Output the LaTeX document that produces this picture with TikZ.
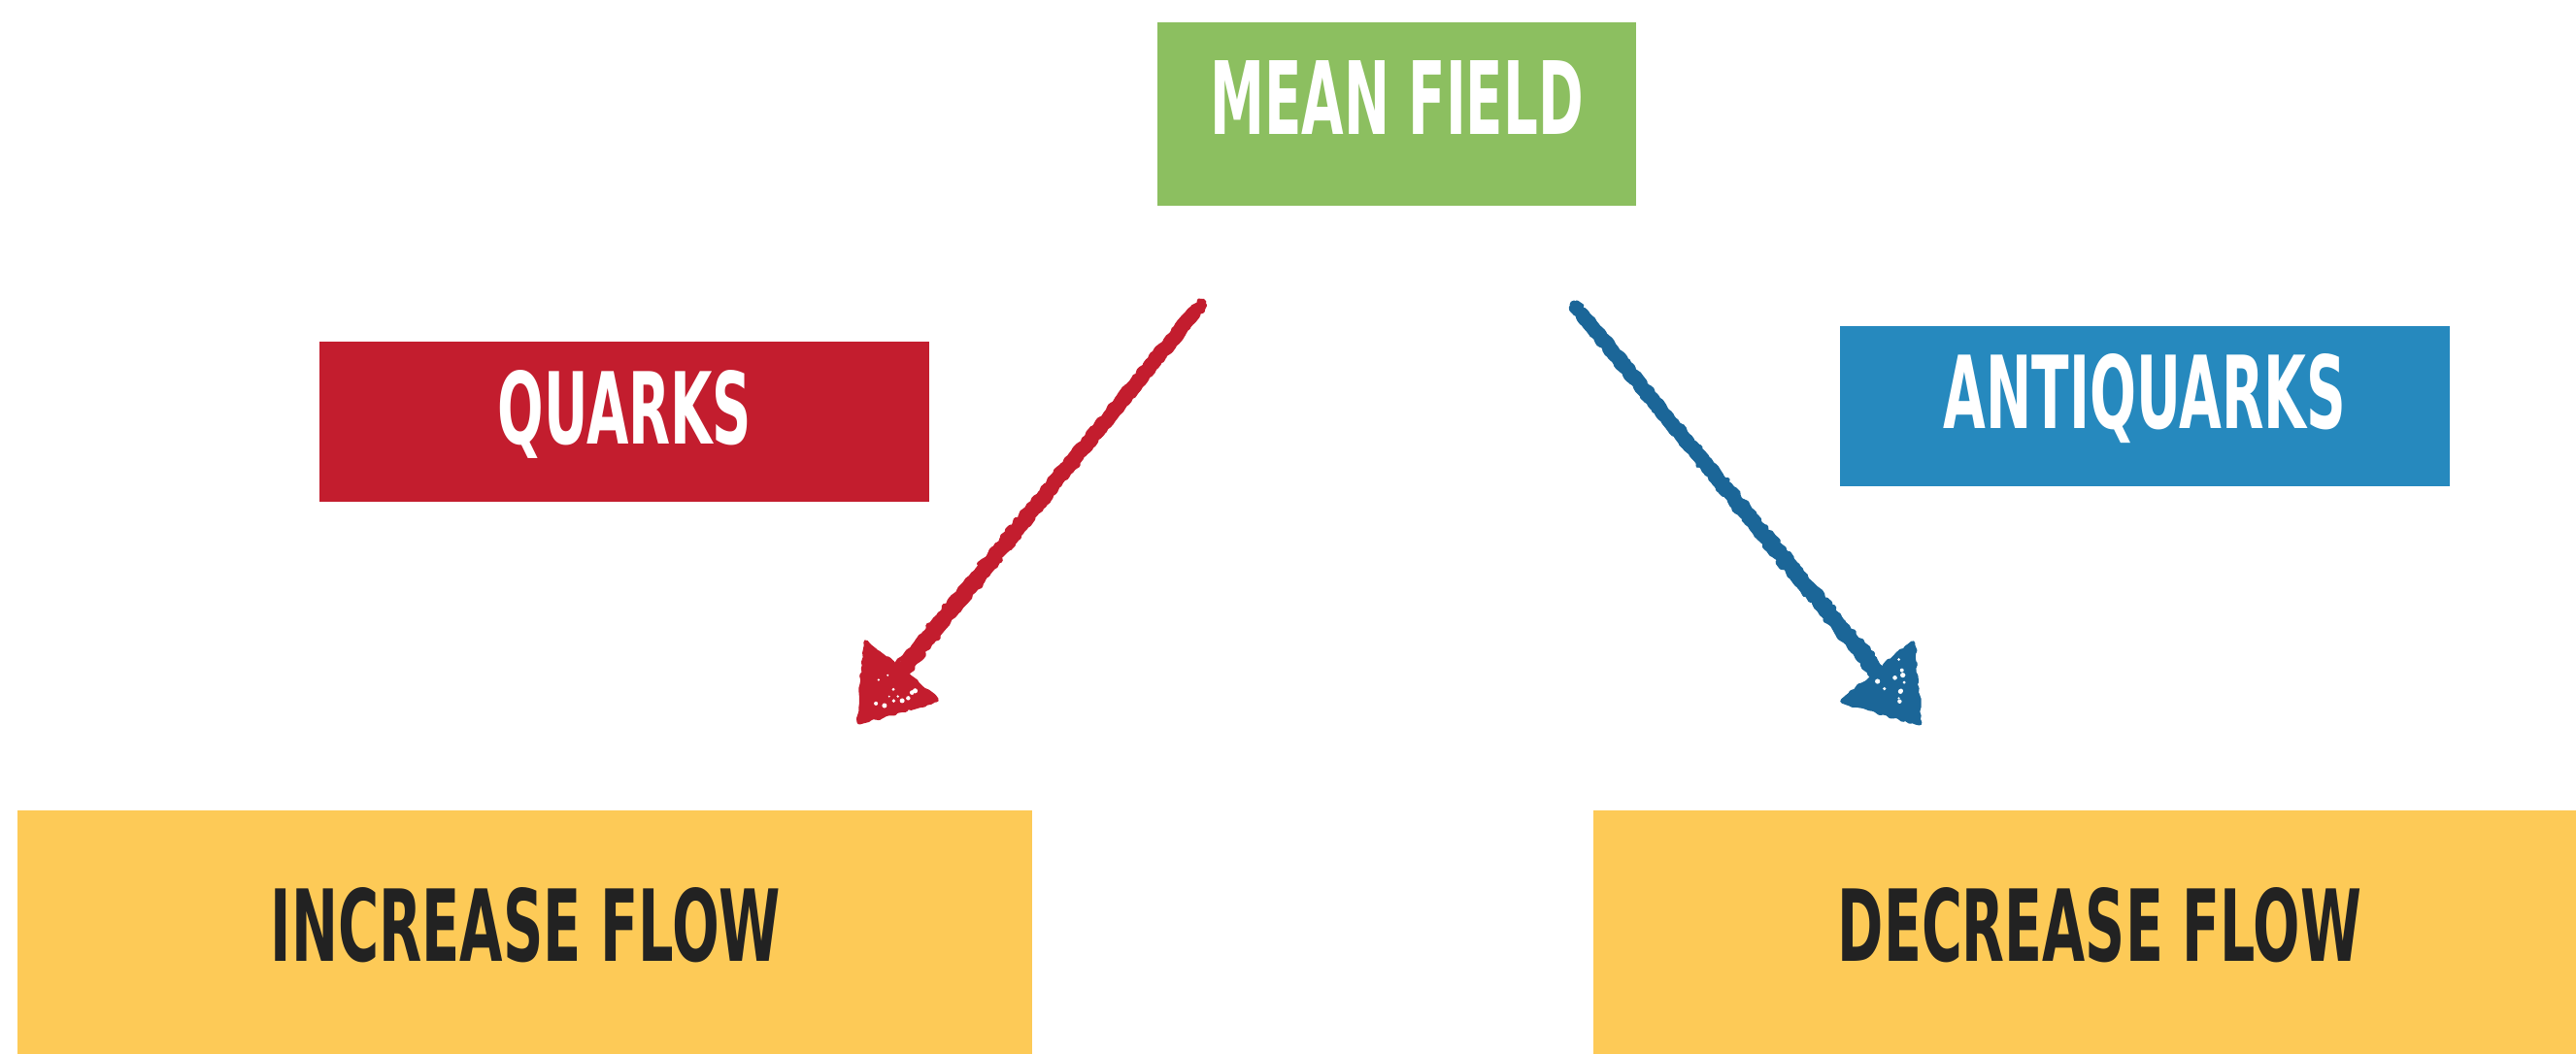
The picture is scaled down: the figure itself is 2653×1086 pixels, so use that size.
\documentclass[tikz,border=0pt]{standalone}
\usepackage{fontspec}
\usepackage{graphicx}
\usetikzlibrary{calc,decorations.pathmorphing}
\newfontfamily\dinfont{DejaVu Sans Condensed}

\definecolor{fieldgreen}{HTML}{8CBF60}
\definecolor{quarkred}{HTML}{C31D2E}
\definecolor{antiblue}{HTML}{2689BE}
\definecolor{arrowblue}{HTML}{1B6698}
\definecolor{flowyellow}{HTML}{FDCA57}
\definecolor{inkdark}{HTML}{222222}

% condensed caps of a fixed width and cap height (in pt)
\newcommand\capsline[3]{\resizebox{#1pt}{#2pt}{\dinfont\bfseries #3}}

% a hand-drawn, crayon-like arrow from #1 to #2 in colour #3
\newcommand\chalkarrow[3]{%
  \coordinate (hb) at ($(#2)!68pt!(#1)$);
  \coordinate (hm) at ($(#2)!45pt!(#1)$);
  \coordinate (hc1) at ($(hb)!47pt!90:(#2)$);
  \coordinate (hc2) at ($(hb)!47pt!-90:(#2)$);
  \draw[#3, chalk, line width=15pt] ($(#1)!14pt!(hm)$) -- (hm);
  \draw[#3, chalk, line width=9pt] (#1) -- ($(#1)!50pt!(hm)$);
  \draw[#3, chalk, line width=4pt, decoration={amplitude=2.2pt}]
    ($(#1)!4pt!90:(hm)$) -- ($(hm)!7pt!-90:(#1)$);
  \draw[#3, chalk, line width=4pt, decoration={amplitude=2.2pt}]
    ($(#1)!4pt!-90:(hm)$) -- ($(hm)!7pt!90:(#1)$);
  \filldraw[#3, chalk, line width=5pt] (#2) -- (hc1) -- (hc2) -- cycle;
  % crayon grain: small bare specks in the head
  \foreach \k in {1,...,12}{
    \pgfmathsetmacro\spu{0.2+0.55*rnd}
    \pgfmathsetmacro\spv{(1-\spu)*(0.15+0.7*rnd)}
    \pgfmathsetmacro\spr{1.0+1.6*rnd}
    \fill[white] ($(#2)!\spu!(hc1) + \spv*(hc2) - \spv*(#2)$) circle[radius=\spr pt];
  }
}

\tikzset{
  panel/.style={rectangle, draw=none, inner sep=0pt},
  caption/.style={inner sep=0pt, anchor=base},
  chalk/.style={decorate, decoration={random steps, segment length=4pt, amplitude=1.4pt},
                line cap=round, line join=round},
}

\begin{document}
\begin{tikzpicture}[x=1pt, y=-1pt]
\pgfmathsetseed{11}
\useasboundingbox (0,0) rectangle (2653,1086);
\fill[white] (0,0) rectangle (2653,1086);

% coloured panels
\node[panel, fill=fieldgreen, minimum width=493pt, minimum height=189pt] (mean) at (1438.5,117.5) {};
\node[panel, fill=quarkred, minimum width=628pt, minimum height=165pt] (quarks) at (643,434.5) {};
\node[panel, fill=antiblue, minimum width=628pt, minimum height=165pt] (anti) at (2209,418.5) {};
\node[panel, fill=flowyellow, minimum width=1045pt, minimum height=251pt] (inc) at (540.5,960.5) {};
\node[panel, fill=flowyellow, minimum width=1012pt, minimum height=251pt] (dec) at (2147,960.5) {};

% captions
\node[caption, text=white] (meantxt) at (1438.5,139) {\capsline{385}{76}{MEAN FIELD}};
\node[caption, text=white] (quarkstxt) at (643.5,457) {\capsline{261}{76}{QUARKS}};
\node[caption, text=white] (antitxt) at (2209,441) {\capsline{414}{77}{ANTIQUARKS}};
\node[caption, text=inkdark] (inctxt) at (541.5,990) {\capsline{525}{76}{INCREASE FLOW}};
\node[caption, text=inkdark] (dectxt) at (2162.5,990) {\capsline{539}{76}{DECREASE FLOW}};

% arrow ends
\coordinate (qstart) at (1238,312);
\coordinate (qtip) at (885,744);
\coordinate (astart) at (1621,314);
\coordinate (atip) at (1977,745);

\chalkarrow{qstart}{qtip}{quarkred}
\chalkarrow{astart}{atip}{arrowblue}
\end{tikzpicture}
\end{document}
